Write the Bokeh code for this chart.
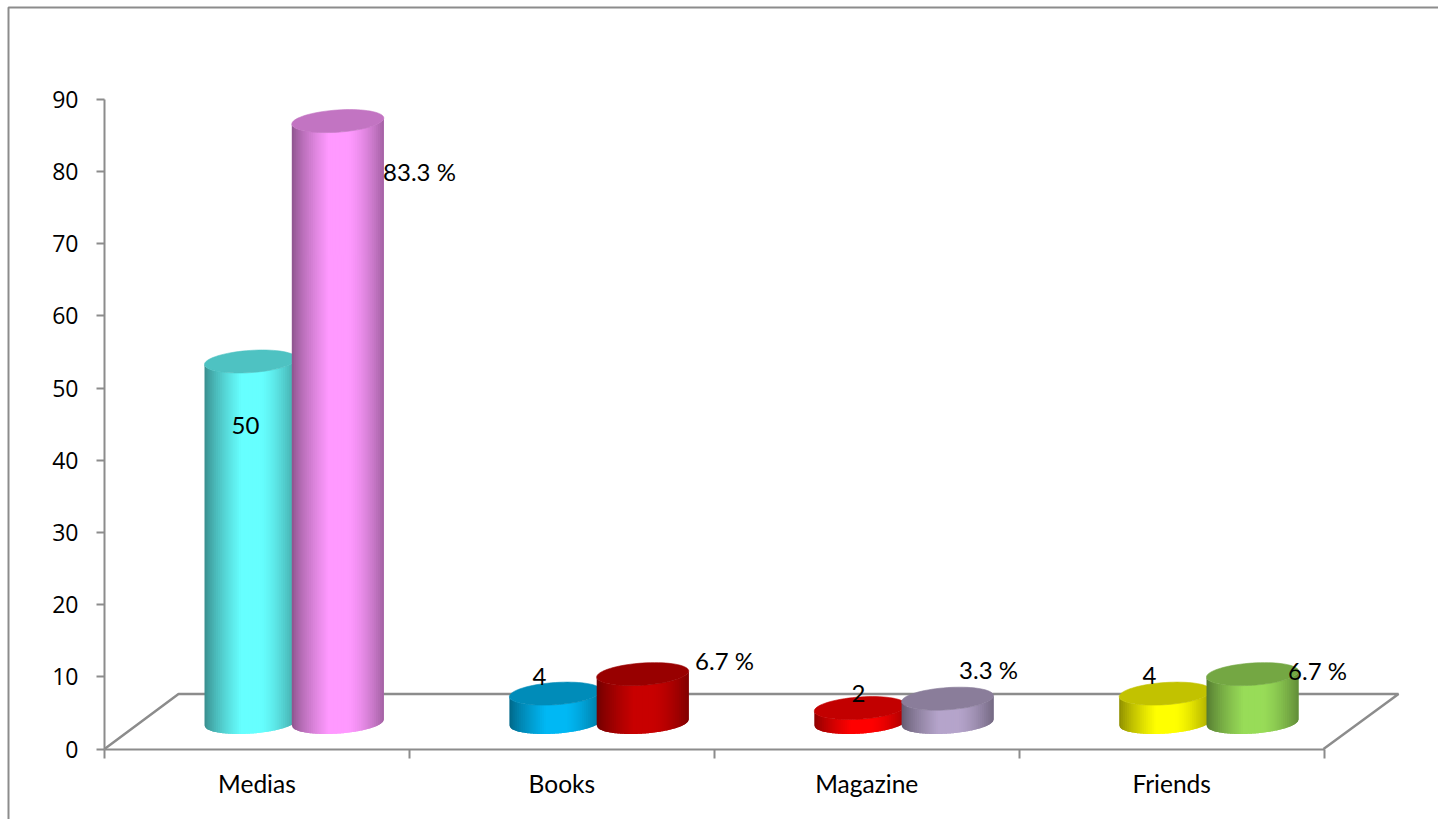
import math

from bokeh.core.properties import value
from bokeh.embed import file_html
from bokeh.models import FixedTicker, Range1d
from bokeh.plotting import figure
from bokeh.resources import INLINE

# Chart values
categories = ["Medias", "Books", "Magazine", "Friends"]
counts = [50, 4, 2, 4]
percents = [83.3, 6.7, 3.3, 6.7]
y_ticks = [0, 10, 20, 30, 40, 50, 60, 70, 80, 90]

# Body colours of the two cylinders in each category
count_colors = ["#66FFFF", "#00B8F4", "#FF0000", "#FFFF00"]
percent_colors = ["#FF99FF", "#C80000", "#B5A4CB", "#98DC58"]

# Page geometry: pixels per unit and where the axes' origin sits
WIDTH, HEIGHT = 1438, 819
ORIGIN_X, ORIGIN_Y = 104, 748.5
PX_PER_CATEGORY = 304.9
PX_PER_UNIT = 7.22
GRAY = "#8C8C8C"
LABEL_FONT = "Lato"
TICK_FONT = "Open Sans"


def cat_x(px):
    return (px - ORIGIN_X) / PX_PER_CATEGORY


def val_y(px):
    return (ORIGIN_Y - px) / PX_PER_UNIT


# Cylinder shape, in axis units
HALF_W = 46 / PX_PER_CATEGORY
ELL_B = 11.1 / PX_PER_UNIT
ELL_SKEW = 3.0 / PX_PER_UNIT
FLOOR_LIFT = 26.5 / PX_PER_UNIT
OFFSET_COUNT = (250 - ORIGIN_X) / PX_PER_CATEGORY
OFFSET_PERCENT = (337.3 - ORIGIN_X) / PX_PER_CATEGORY
STRIPS = 48


def shade(color, factor):
    rgb = [int(color[i:i + 2], 16) for i in (1, 3, 5)]
    return "#%02x%02x%02x" % tuple(min(255, round(c * factor)) for c in rgb)


def side_factor(t):
    # Horizontal light falloff across a cylinder's face, t from 0 to 1
    if t < 0.4:
        return 0.54 + (1.0 - 0.54) * (t / 0.4) ** 0.75
    if t <= 0.6:
        return 1.0
    return 1.0 - (1.0 - 0.64) * ((t - 0.6) / 0.4) ** 1.5


def arc(u):
    return math.sqrt(max(0.0, 1.0 - u * u))


def cylinder(p, cx, amount, color):
    base = FLOOR_LIFT
    top = FLOOR_LIFT + amount
    step = 2 / STRIPS
    # Each strip reaches under the next one, which keeps the seams closed
    for i in range(STRIPS):
        u0 = -1 + i * step
        u1 = min(1.0, u0 + 2 * step)
        us = [u0 + (u1 - u0) * k / 4 for k in range(5)]
        xs = [cx + u * HALF_W for u in us]
        low = [base + ELL_SKEW * u - ELL_B * arc(u) for u in us]
        high = [top + ELL_SKEW * u - ELL_B * arc(u) for u in us]
        fill = shade(color, side_factor((i + 0.5) / STRIPS))
        p.patch(xs + xs[::-1], low + high[::-1], fill_color=fill, line_color=None)

    angles = [2 * math.pi * k / 72 for k in range(72)]
    cap_x = [cx + HALF_W * math.cos(a) for a in angles]
    cap_y = [top + ELL_SKEW * math.cos(a) + ELL_B * math.sin(a) for a in angles]
    p.patch(cap_x, cap_y, fill_color=shade(color, 0.76), line_color=shade(color, 0.76), line_width=0.6)


p = figure(
    width=WIDTH,
    height=HEIGHT,
    output_backend="svg",
    toolbar_location=None,
    x_range=Range1d(cat_x(0), cat_x(WIDTH)),
    y_range=Range1d(val_y(HEIGHT), val_y(0)),
    min_border=0,
    outline_line_color=None,
)
p.grid.visible = False

# Value axis
yaxis = p.yaxis[0]
yaxis.fixed_location = 0
yaxis.bounds = (0, 90)
yaxis.ticker = FixedTicker(ticks=y_ticks)
yaxis.axis_line_color = GRAY
yaxis.axis_line_width = 2
yaxis.major_tick_line_color = GRAY
yaxis.major_tick_line_width = 2
yaxis.major_tick_out = 8
yaxis.major_tick_in = 0
yaxis.minor_tick_line_color = None
yaxis.major_label_text_font = TICK_FONT
yaxis.major_label_text_font_size = "23px"
yaxis.major_label_text_color = "#000000"
yaxis.major_label_standoff = 18

# Category axis: names at the centres, tick marks on the boundaries
xaxis = p.xaxis[0]
xaxis.fixed_location = 0
xaxis.bounds = (0, len(categories))
xaxis.ticker = FixedTicker(
    ticks=[i + 0.5 for i in range(len(categories))],
    minor_ticks=list(range(len(categories) + 1)),
)
xaxis.major_label_overrides = {i + 0.5: name for i, name in enumerate(categories)}
xaxis.axis_line_color = GRAY
xaxis.axis_line_width = 2
xaxis.major_tick_line_color = None
xaxis.major_tick_out = 0
xaxis.major_tick_in = 0
xaxis.minor_tick_line_color = GRAY
xaxis.minor_tick_line_width = 2
xaxis.minor_tick_out = 9
xaxis.minor_tick_in = 0
xaxis.major_label_text_font = LABEL_FONT
xaxis.major_label_text_font_size = "24.5px"
xaxis.major_label_text_color = "#000000"
xaxis.major_label_standoff = 11

# Frame around the chart area
p.line([cat_x(8), cat_x(8), cat_x(WIDTH)], [val_y(HEIGHT), val_y(7), val_y(7)], line_color=GRAY, line_width=2)

# Floor of the 3D plot
p.line(
    [cat_x(104), cat_x(178), cat_x(1398), cat_x(1323)],
    [val_y(748.5), val_y(693.5), val_y(693.5), val_y(748.5)],
    line_color=GRAY,
    line_width=2.5,
)

# Cylinders, left one first so its neighbour overlaps it
for i in range(len(categories)):
    cylinder(p, i + OFFSET_COUNT, counts[i], count_colors[i])
    cylinder(p, i + OFFSET_PERCENT, percents[i], percent_colors[i])

# Value labels
label_px = [
    (245, 425), (419, 171),
    (539, 676), (724, 660),
    (858, 693), (988, 669),
    (1149, 675), (1317, 670),
]
label_texts = []
for c, pc in zip(counts, percents):
    label_texts.extend([str(c), f"{pc} %"])
p.text(
    [cat_x(px) for px, _ in label_px],
    [val_y(py) for _, py in label_px],
    text=label_texts,
    text_font=value(LABEL_FONT),
    text_font_size="24px",
    text_color="#000000",
    text_align="center",
    text_baseline="middle",
)

open("out.html", "w").write(file_html(p, INLINE))
